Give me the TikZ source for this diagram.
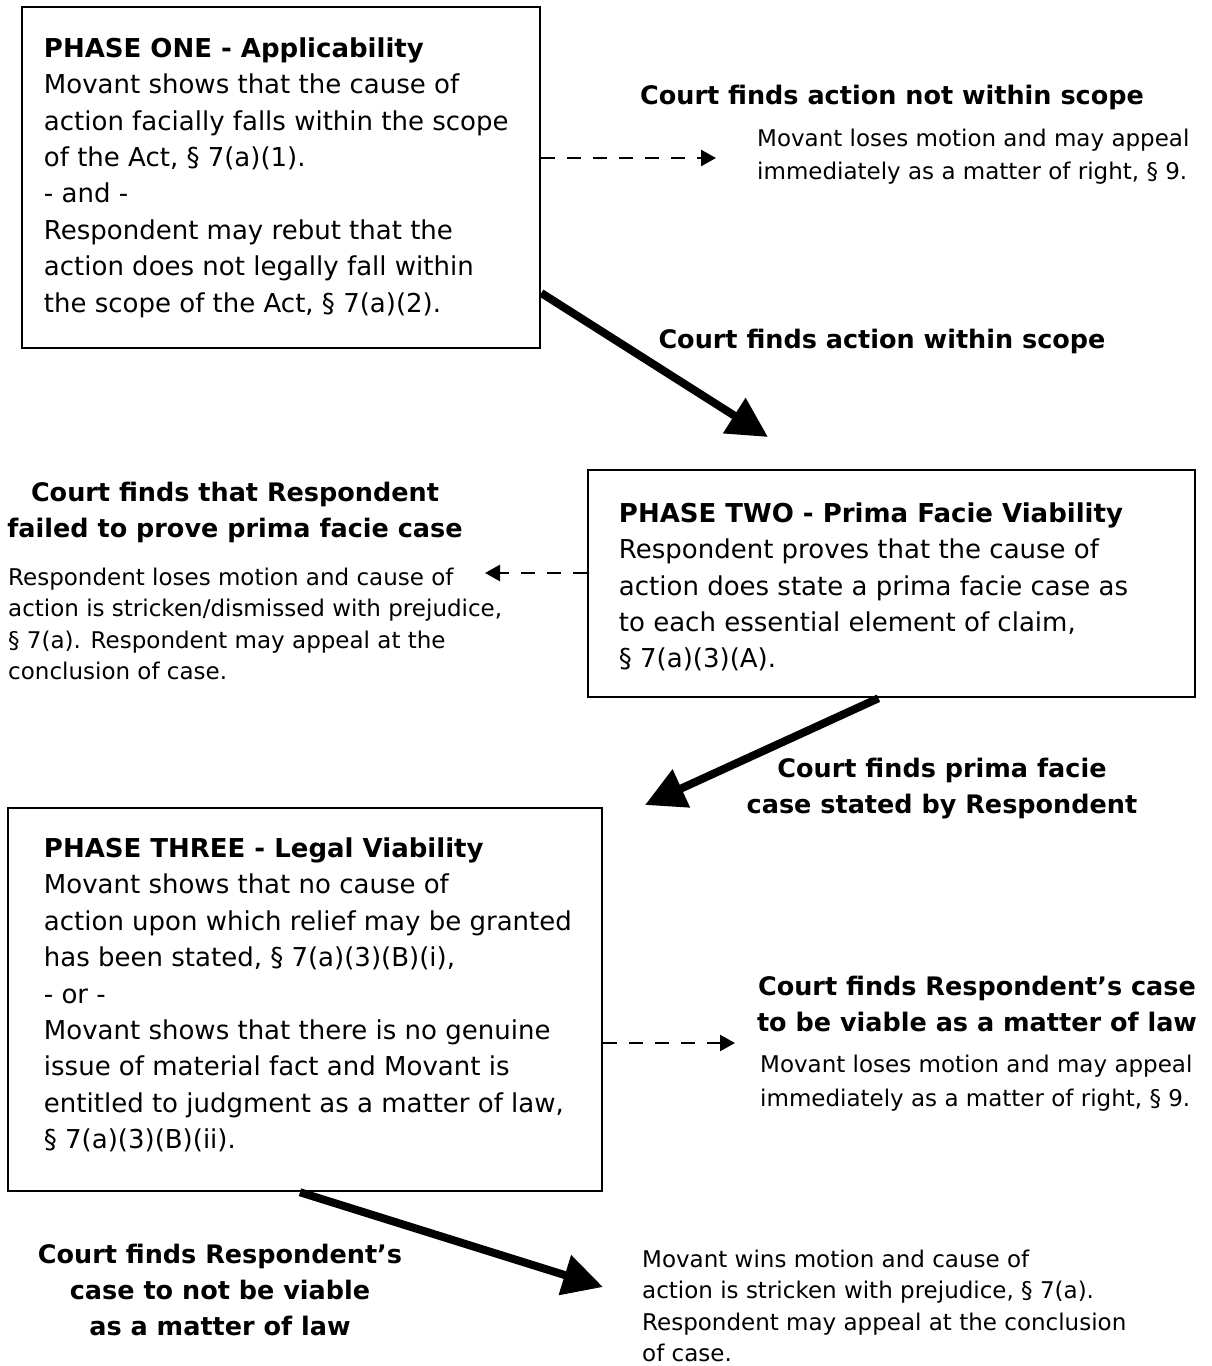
\documentclass[tikz,border=0pt]{standalone}
\usepackage{fontspec}
\setmainfont{DejaVu Sans}
\usetikzlibrary{arrows.meta}

\begin{document}
\begin{tikzpicture}[x=1pt,y=-1pt,
	box/.style={rectangle, draw, line width=2.5pt},
	boxtxt/.style={anchor=west, inner sep=0pt, align=left, font=\fontsize{26}{36.4}\selectfont},
	finds/.style={inner sep=0pt, align=center, font=\bfseries\fontsize{25.5}{36}\selectfont},
	small/.style={anchor=west, inner sep=0pt, align=left, font=\fontsize{23}{31.3}\selectfont},
	yes/.style={line width=8pt, -{Triangle[length=40pt,width=40pt]}},
	no/.style={line width=2.5pt, dash pattern=on 14pt off 12pt, -{Triangle[length=15pt,width=16pt]}}]

	\useasboundingbox (0,0) rectangle (1212,1366);

	\node at (281,177.5) [box, minimum width=518pt, minimum height=341pt] (one) {};
	\node at (891.5,583.5) [box, minimum width=607pt, minimum height=227pt] (two) {};
	\node at (305,999.5) [box, minimum width=594pt, minimum height=383pt] (three) {};

	\node at ([xshift=23pt]one.west) [boxtxt] (onetxt) {\textbf{PHASE ONE - Applicability}\\
		Movant shows that the cause of\\
		action facially falls within the scope\\
		of the Act, § 7(a)(1).\\
		- and -\\
		Respondent may rebut that the\\
		action does not legally fall within\\
		the scope of the Act, § 7(a)(2).};
	\node at ([xshift=32pt,yshift=-3.5pt]two.west) [boxtxt] (twotxt) {\textbf{PHASE TWO - Prima Facie Viability}\\
		Respondent proves that the cause of\\
		action does state a prima facie case as\\
		to each essential element of claim,\\
		§ 7(a)(3)(A).};
	\node at ([xshift=37pt,yshift=4.5pt]three.west) [boxtxt] (threetxt) {\textbf{PHASE THREE - Legal Viability}\\
		Movant shows that no cause of\\
		action upon which relief may be granted\\
		has been stated, § 7(a)(3)(B)(i),\\
		- or -\\
		Movant shows that there is no genuine\\
		issue of material fact and Movant is\\
		entitled to judgment as a matter of law,\\
		§ 7(a)(3)(B)(ii).};

	\node at (892,97) [finds] (outscope) {Court finds action not within scope};
	\node at (757,156.5) [small, font=\fontsize{23}{33}\selectfont] (lose1) {Movant loses motion and may appeal\\immediately as a matter of right, § 9.};
	\node at (882,341) [finds] (inscope) {Court finds action within scope};
	\node at (235,512) [finds] (noprima) {Court finds that Respondent\\failed to prove prima facie case};
	\node at (8,624) [small] (lose2) {Respondent loses motion and cause of\\action is stricken/dismissed with prejudice,\\§ 7(a). Respondent may appeal at the\\conclusion of case.};
	\node at (942,788.5) [finds] (prima) {Court finds prima facie\\case stated by Respondent};
	\node at (977,1004) [finds] (viable) {Court finds Respondent’s case\\to be viable as a matter of law};
	\node at (760,1083) [small, font=\fontsize{23}{34}\selectfont] (lose3) {Movant loses motion and may appeal\\immediately as a matter of right, § 9.};
	\node at (220,1289.5) [finds] (notviable) {Court finds Respondent’s\\case to not be viable\\as a matter of law};
	\node at (642,1306) [small] (win) {Movant wins motion and cause of\\action is stricken with prejudice, § 7(a).\\Respondent may appeal at the conclusion\\of case.};

	\coordinate (miss1) at (716,158);
	\coordinate (hit2) at (768,437);
	\coordinate (miss2) at (485,573);
	\coordinate (hit3) at (645,805);
	\coordinate (miss3) at (735,1043);
	\coordinate (hit4) at (603,1287);

	\draw [no] ([yshift=19.5pt]one.east) -- (miss1);
	\draw [yes] ([yshift=-115.5pt]one.east) -- (hit2);
	\draw [no] ([yshift=10.5pt]two.west) -- (miss2);
	\draw [yes] ([xshift=-13pt]two.south) -- (hit3);
	\draw [no] ([yshift=-43.5pt]three.east) -- (miss3);
	\draw [yes] ([xshift=-5pt]three.south) -- (hit4);

\end{tikzpicture}
\end{document}
